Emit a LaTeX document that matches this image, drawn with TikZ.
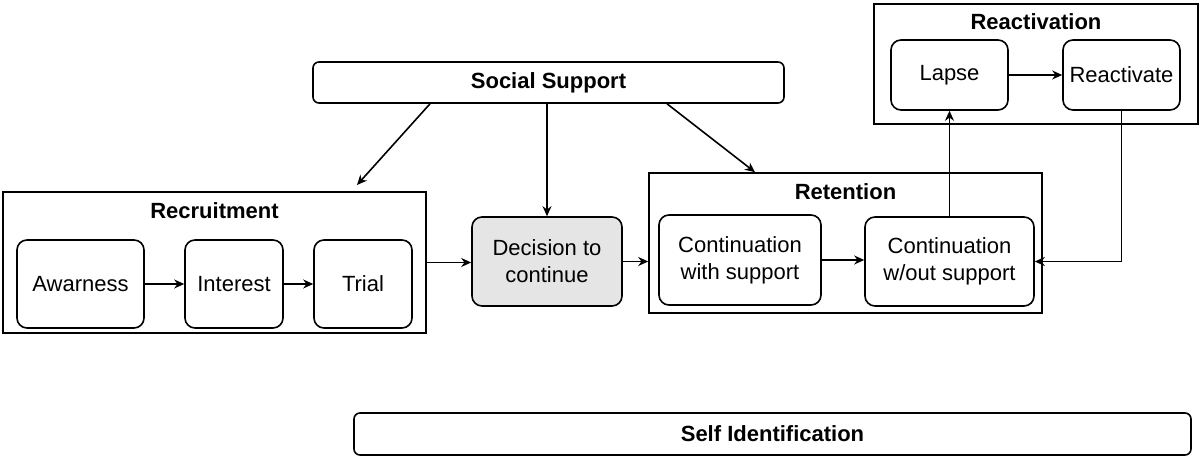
\documentclass[tikz,border=0pt]{standalone}
\usepackage{fontspec}
\setmainfont{Liberation Sans}
\usepackage{tikz}
\usetikzlibrary{positioning,calc,arrows.meta}

\begin{document}
\begin{tikzpicture}[x=0.5pt, y=-0.5pt,
    every node/.style={font=\fontsize{11}{13.5}\selectfont},
    stagebox/.style={draw, line width=0.8pt, rounded corners=5pt, inner sep=0pt, align=center},
    groupbox/.style={draw, line width=0.8pt, inner sep=0pt},
    bandbox/.style={draw, line width=0.8pt, rounded corners=3pt, inner sep=0pt, font=\fontsize{11}{13}\selectfont\bfseries},
    grouptitle/.style={font=\fontsize{11}{13}\selectfont\bfseries},
    arr/.style={-{Stealth[length=5pt,width=4.5pt]}, line width=0.8pt}]
    \useasboundingbox (0,0) rectangle (1200,459);

    % Bands
    \node[bandbox, minimum width=235.5pt, minimum height=20.5pt] (social) at (548.5,82.5) {Social Support};
    \node[bandbox, minimum width=418.5pt, minimum height=21pt] (selfid) at (772.5,434) {Self Identification};

    % Recruitment
    \node[groupbox, minimum width=211.5pt, minimum height=70.5pt] (recruit) at (214.5,262.5) {};
    \node[grouptitle] (recruittitle) at (214.5,211) {Recruitment};
    \node[stagebox, minimum width=63.5pt, minimum height=44pt] (awar) at (80.5,284) {Awarness};
    \node[stagebox, minimum width=49pt, minimum height=44pt] (interest) at (234,284) {Interest};
    \node[stagebox, minimum width=49pt, minimum height=44pt] (trial) at (363,284) {Trial};

    % Decision
    \node[stagebox, fill=gray!20, minimum width=75pt, minimum height=44.5pt] (decision) at (547,261.5) {Decision to\\continue};

    % Retention
    \node[groupbox, minimum width=196.5pt, minimum height=70pt] (retention) at (845.5,243) {};
    \node[grouptitle] (retentiontitle) at (845.5,192) {Retention};
    \node[stagebox, minimum width=81pt, minimum height=45pt] (cws) at (740,260) {Continuation\\with support};
    \node[stagebox, minimum width=84.5pt, minimum height=44.5pt] (cwos) at (949.5,261.5) {Continuation\\w/out support};

    % Reactivation
    \node[groupbox, minimum width=162pt, minimum height=60pt] (reactivation) at (1036,64) {};
    \node[grouptitle] (reactivationtitle) at (1036,22) {Reactivation};
    \node[stagebox, minimum width=58.5pt, minimum height=35pt] (lapse) at (949.5,75) {Lapse};
    \node[stagebox, minimum width=58.5pt, minimum height=35pt] (reactivate) at (1121.5,75) {Reactivate};

    % Social support links
    \coordinate (recin) at (357,185);
    \draw[arr] ([xshift=-59.25pt]social.south) -- (recin);
    \draw[arr] (social.south -| decision.north) -- (decision.north);
    \draw[arr] ([xshift=59.25pt]social.south) -- ([xshift=-45.25pt]retention.north);

    % Flow
    \draw[arr] (awar) -- (interest);
    \draw[arr] (interest) -- (trial);
    \draw[arr] (recruit.east) -- (recruit.east -| decision.west);
    \draw[arr] (decision.east) -- (decision.east -| retention.west);
    \draw[arr] (cws.east) -- (cws.east -| cwos.west);
    \draw[arr] (cwos.north) -- (cwos.north |- lapse.south);
    \draw[arr] (lapse) -- (reactivate);
    \draw[arr] (reactivate.south) |- (cwos.east);

\end{tikzpicture}
\end{document}
